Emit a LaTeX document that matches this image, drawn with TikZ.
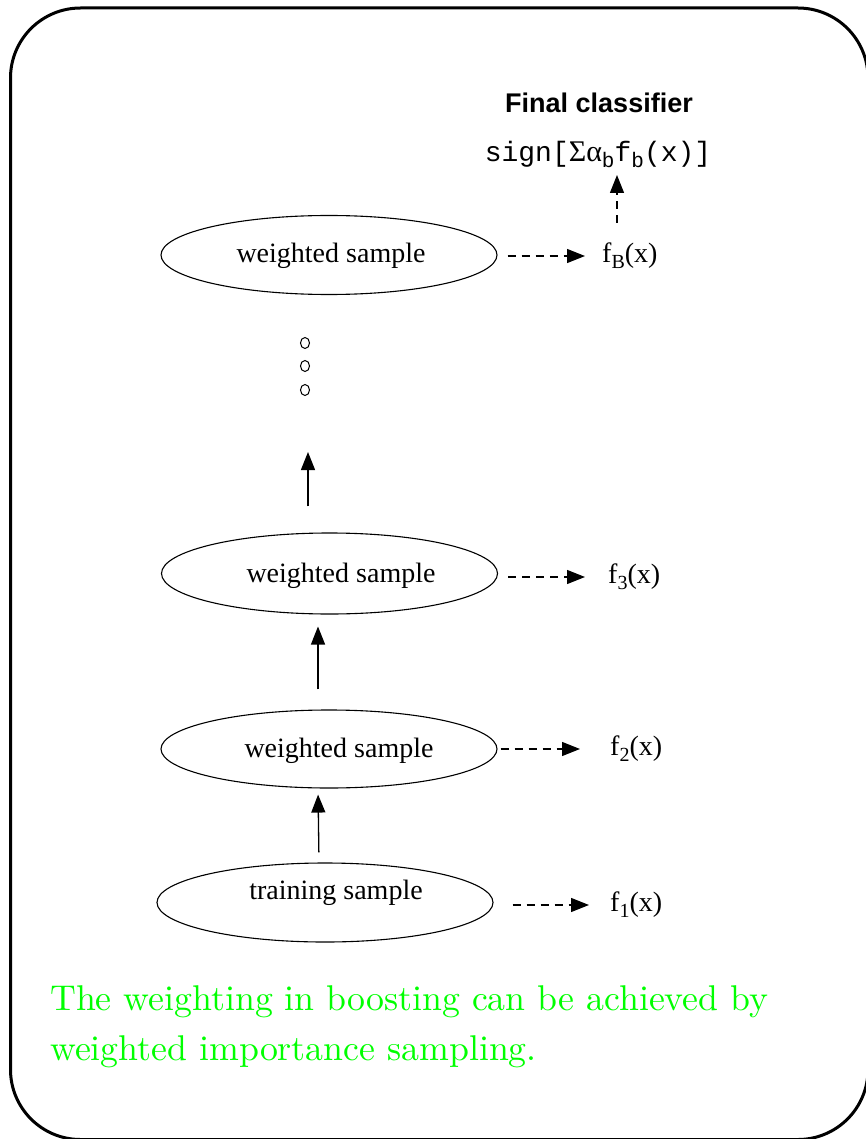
\documentclass[tikz,border=0pt]{standalone}
\usepackage{fontspec}
\setmainfont{Liberation Serif}
\newfontfamily\arialfont{Liberation Sans}
\newfontfamily\courfont{Liberation Mono}
\newfontfamily\lmfont{lmroman10-regular.otf}
\usetikzlibrary{shapes.geometric,arrows.meta}
\definecolor{slidegreen}{RGB}{0,255,0}
\newcommand\tsub[1]{\raisebox{-6pt}{\fontsize{20}{20}\selectfont #1}}
\newcommand\csub[1]{\raisebox{-6pt}{\fontsize{21}{21}\selectfont #1}}
\begin{document}
\begin{tikzpicture}[x=1pt,y=-1pt,
  ell/.style={draw, ellipse, line width=1.1pt, minimum width=336pt, minimum height=79pt, inner sep=0pt},
  lab/.style={font=\fontsize{28}{30}\selectfont, anchor=base, inner sep=0pt},
  flab/.style={font=\fontsize{28}{30}\selectfont, anchor=west, inner xsep=17pt, inner ysep=0pt},
  solidarrow/.style={-{Triangle[length=18pt,width=14pt]}, line width=1.3pt},
  dasharrow/.style={-{Triangle[length=18pt,width=14pt]}, line width=1.2pt, dash pattern=on 8pt off 6pt},
  dotc/.style={draw, ellipse, line width=1pt, minimum width=9pt, minimum height=11pt, inner sep=0pt},
  greentext/.style={font=\lmfont\fontsize{35.8}{50}\selectfont, text=slidegreen, anchor=base west, inner sep=0pt}]
\useasboundingbox (0,0) rectangle (865,1139);
\draw[line width=3pt, rounded corners=70pt] (10.5,8) rectangle (868,1139.5);

% ellipses
\node[ell] (eB) at (329,255) {};
\node[lab] (tB) at (331,263) {weighted sample};
\node[ell, minimum height=81pt] (e3) at (329.5,573.5) {};
\node[lab] (t3) at (341,582) {weighted sample};
\node[ell, minimum height=78pt] (e2) at (329,749) {};
\node[lab] (t2) at (339,757) {weighted sample};
\node[ell] (e1) at (325,902.5) {};
\node[lab] (t1) at (336,899) {training sample};

% function labels
\node[flab] (fB) at (585,256) {f\tsub{B}(x)};
\node[flab, inner xsep=23pt] (f3) at (585,577) {f\tsub{3}(x)};
\node[flab, inner xsep=30pt] (f2) at (580,749) {f\tsub{2}(x)};
\node[flab, inner xsep=21pt] (f1) at (589,905) {f\tsub{1}(x)};

% final classifier
\node[lab, font=\arialfont\bfseries\fontsize{27}{30}\selectfont] (fc) at (599,113) {Final classifier};
\node[lab, font=\courfont\fontsize{28}{30}\selectfont] (sign) at (598,162) {sign[{\rmfamily\fontsize{30}{30}\selectfont Σα}\csub{b}f\csub{b}(x)]};

% dots
\node[dotc] (d1) at (305,343) {};
\node[dotc] (d2) at (305,366) {};
\node[dotc] (d3) at (305,390) {};

% dashed arrows to classifiers
\draw[dasharrow] ([xshift=10pt]eB.east |- fB.west) -- (fB.west);
\draw[dasharrow] ([xshift=10pt]e3.east |- f3.west) -- (f3.west);
\draw[dasharrow] ([xshift=3pt]e2.east |- f2.west) -- (f2.west);
\draw[dasharrow] ([xshift=19pt]e1.east |- f1.west) -- (f1.west);
\draw[dasharrow, shorten <=20pt, shorten >=13pt] (fB.north -| 617,0) -- (sign.base -| 617,0);

% solid arrows
\draw[solidarrow, shorten <=10pt, shorten >=6pt] (e1.north -| 319,0) -- (e2.south -| 318,0);
\draw[solidarrow, shorten <=20pt, shorten >=12pt] (e2.north -| 318,0) -- (e3.south -| 318,0);
\draw[solidarrow, shorten <=26pt, shorten >=56pt] (e3.north -| 308,0) -- (d3.south -| 308,0);

% green text
\node[greentext] (g1) at (50,1010) {The weighting in boosting can be achieved by};
\node[greentext] (g2) at (50,1060) {weighted importance sampling.};
\end{tikzpicture}
\end{document}
